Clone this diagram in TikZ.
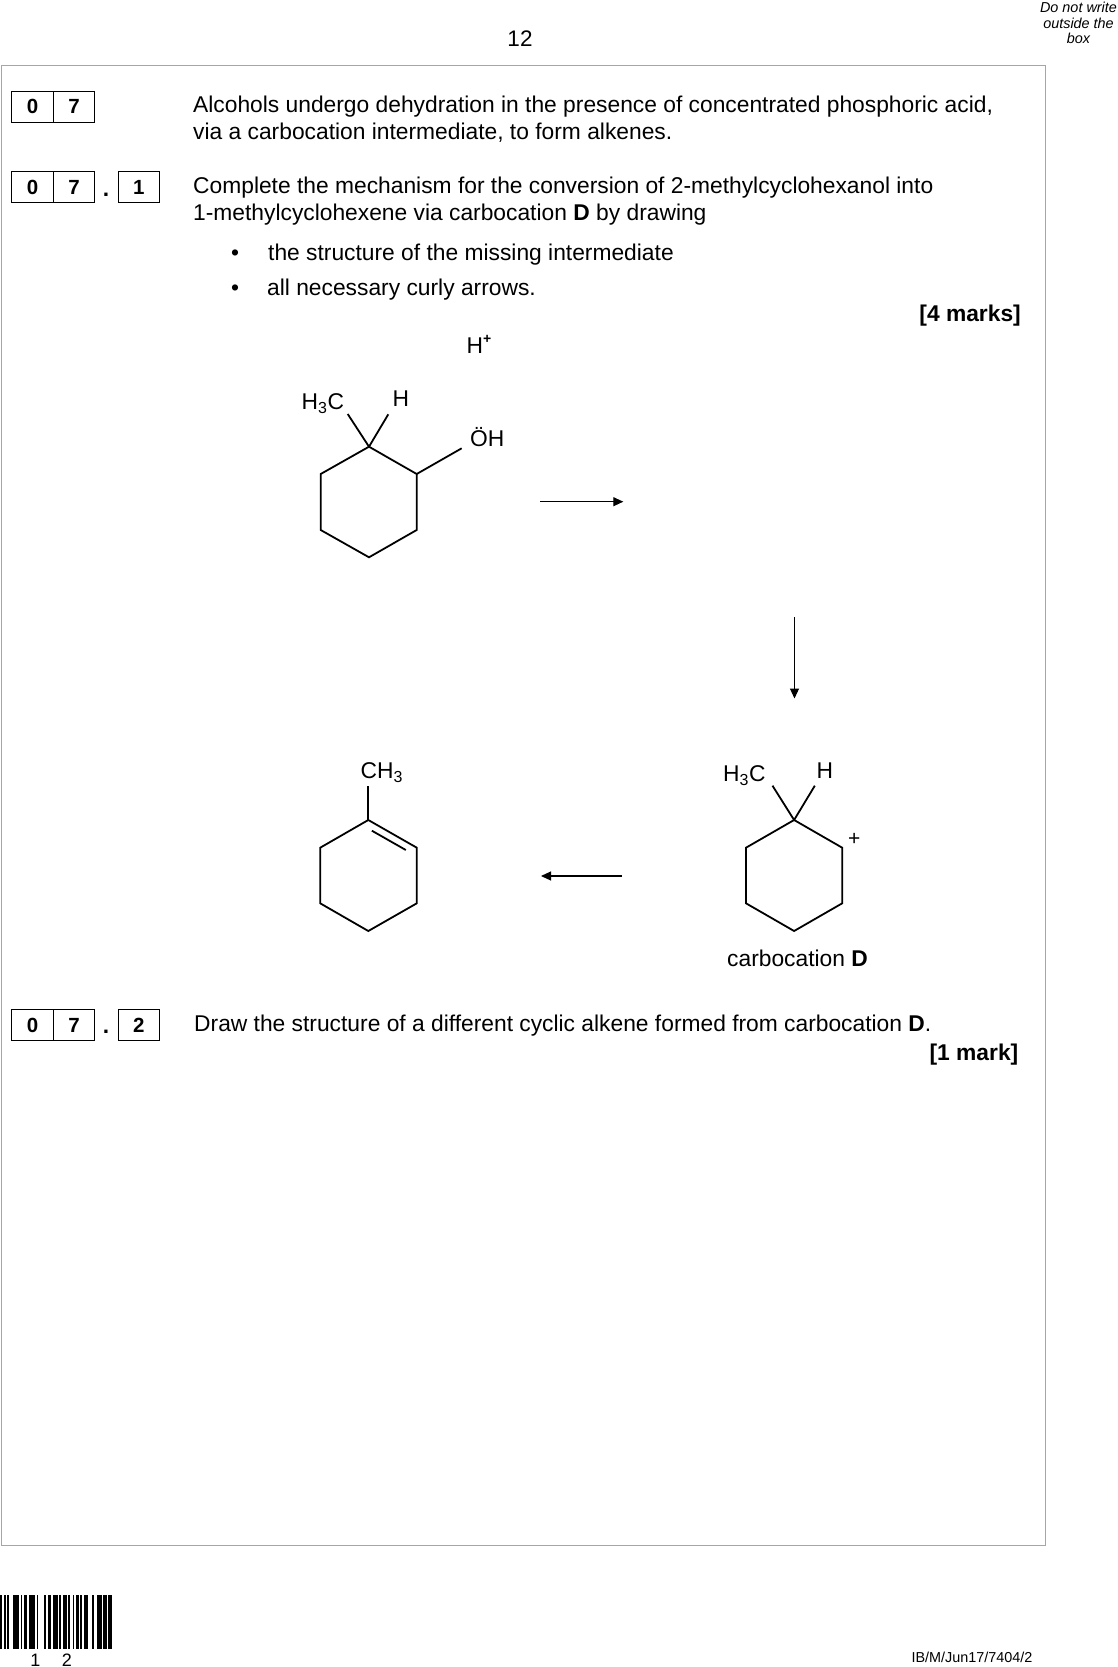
\documentclass[tikz,border=0pt]{standalone}
\usepackage{fontspec}
\setmainfont{Liberation Sans}
\usetikzlibrary{arrows.meta}
\begin{document}
\begin{tikzpicture}[x=1pt,y=-1pt,
  body/.style={font=\fontsize{22.8}{26.7}\selectfont, inner sep=0pt, anchor=base west},
  bodyr/.style={body, anchor=base east},
  bodyb/.style={font=\bfseries\fontsize{22.8}{22.8}\selectfont},
  small/.style={font=\itshape\fontsize{14.4}{15.3}\selectfont, inner sep=0pt, anchor=base, align=center},
  numbox/.style={draw, line width=0.9pt, minimum width=41.6pt, minimum height=31pt, inner sep=0pt, font=\bfseries\fontsize{20.5}{20.5}\selectfont},
  bond/.style={line width=1.8pt},
  rxn/.style={line width=1.1pt, -{Triangle[length=10pt,width=9pt]}},
  frame/.style={draw=black!35, line width=1pt},
  bar/.style={fill=black, draw=none}]
\useasboundingbox (0,0) rectangle (1117,1667);
\fill[white] (0,0) rectangle (1117,1667);

% header
\node[body, anchor=base, font=\fontsize{22.5}{22.5}\selectfont] (pageno) at (520,46.7) {12};
\node[small] (dnw1) at (1078.5,12.7) {Do not write};
\node[small] (dnw2) at (1078.5,28.3) {outside the};
\node[small] (dnw3) at (1078.5,43.5) {box};

% answer frame
\draw[frame] (1,65.7) rectangle (1045,1545.5);

% question 07
\node[numbox] (q7a) at (32.5,106.5) {0};
\node[numbox] (q7b) at (74.1,106.5) {7};
\node[body] (t1) at (193,112.7) {Alcohols undergo dehydration in the presence of concentrated phosphoric acid,};
\node[body] (t2) at (193,139.3) {via a carbocation intermediate, to form alkenes.};

% question 07.1
\node[numbox] (q71a) at (32.5,187.2) {0};
\node[numbox] (q71b) at (74.1,187.2) {7};
\node[body, anchor=base, bodyb] (q71dot) at (106,196) {.};
\node[numbox] (q71c) at (138.8,187.2) {1};
\node[body] (t3) at (193,193.3) {Complete the mechanism for the conversion of 2-methylcyclohexanol into};
\node[body] (t4) at (193,220) {1-methylcyclohexene via carbocation \textbf{D} by drawing};
\node[body, anchor=base] (bul1) at (235,260.7) {•};
\node[body] (t5) at (268,260.7) {the structure of the missing intermediate};
\node[body, anchor=base] (bul2) at (235,295) {•};
\node[body] (t6) at (267,295) {all necessary curly arrows.};
\node[bodyr, bodyb] (m4) at (1021,321.7) {[4 marks]};

% H+
\node[body] (hplus) at (466.5,353.3) {H\raisebox{0.42em}{\fontsize{14}{14}\selectfont\bfseries +}};

% molecule 1: 2-methylcyclohexanol
\coordinate (a1) at (369,446.7);
\coordinate (a2) at (416.7,474);
\coordinate (a3) at (416.7,530);
\coordinate (a4) at (369,557.3);
\coordinate (a5) at (320.7,530);
\coordinate (a6) at (320.7,474);
\coordinate (am) at (347.7,414);
\coordinate (ah) at (388.3,414.3);
\coordinate (ao) at (461.7,448.3);
\draw[bond] (a1) -- (a2) -- (a3) -- (a4) -- (a5) -- (a6) -- cycle;
\draw[bond] (a1) -- (am);
\draw[bond] (a1) -- (ah);
\draw[bond] (a2) -- (ao);
\node[body] (l1) at (301.5,409.5) {H\textsubscript{3}C};
\node[body] (l2) at (392.5,406) {H};
\node[body] (l3) at (470,446.7) {ÖH};

% arrow 1 (right)
\coordinate (r1s) at (540,501.7);
\coordinate (r1e) at (623.3,501.7);
\draw[rxn] (r1s) -- (r1e);

% arrow 2 (down)
\coordinate (r2s) at (794.5,617);
\coordinate (r2e) at (794.5,698.5);
\draw[rxn] (r2s) -- (r2e);

% molecule 3: carbocation D
\coordinate (c1) at (794.1,820);
\coordinate (c2) at (842.2,847.7);
\coordinate (c3) at (842.2,903.3);
\coordinate (c4) at (794.1,931);
\coordinate (c5) at (746,903.3);
\coordinate (c6) at (746,847.7);
\coordinate (cm) at (772.5,785.7);
\coordinate (ch) at (814.8,785.7);
\draw[bond] (c1) -- (c2) -- (c3) -- (c4) -- (c5) -- (c6) -- cycle;
\draw[bond] (c1) -- (cm);
\draw[bond] (c1) -- (ch);
\node[body] (l4) at (723,781.7) {H\textsubscript{3}C};
\node[body] (l5) at (816.5,778.3) {H};
\node[body, anchor=center, font=\fontsize{21}{21}\selectfont] (plus) at (854.2,839) {+};
\node[body] (l6) at (727,966.7) {carbocation \textbf{D}};

% arrow 3 (left)
\coordinate (r3s) at (622,876);
\coordinate (r3e) at (541,876);
\draw[rxn] (r3s) -- (r3e);

% molecule 2: 1-methylcyclohexene
\coordinate (b1) at (368.3,820);
\coordinate (b2) at (416.8,847.7);
\coordinate (b3) at (416.8,903.3);
\coordinate (b4) at (368.3,931);
\coordinate (b5) at (320.2,903.3);
\coordinate (b6) at (320.2,847.7);
\coordinate (bm) at (368.3,786);
\coordinate (bd1) at (371.9,830.7);
\coordinate (bd2) at (405.8,850);
\draw[bond] (b1) -- (b2) -- (b3) -- (b4) -- (b5) -- (b6) -- cycle;
\draw[bond] (b1) -- (bm);
\draw[bond] (bd1) -- (bd2);
\node[body] (l7) at (360.5,778.3) {CH\textsubscript{3}};

% question 07.2
\node[numbox] (q72a) at (32.5,1025) {0};
\node[numbox] (q72b) at (74.1,1025) {7};
\node[body, anchor=base, bodyb] (q72dot) at (106,1033.8) {.};
\node[numbox] (q72c) at (138.8,1025) {2};
\node[body] (t7) at (194,1031.7) {Draw the structure of a different cyclic alkene formed from carbocation \textbf{D}.};
\node[bodyr, bodyb] (m1) at (1018.5,1060) {[1 mark]};

% barcode
\foreach \bx/\bw in {0/1.5,4.3/1.5,7.3/2,12.5/6.5,20.5/1.5,24/3,29/5.5,36.7/1.5,43.7/2.5,47.7/3,52.7/5,59.3/1.5,62.7/4,68.3/1.7,72.7/1.5,76/2.5,80/2,84/3.5,92/2,96.7/5,103.3/3.3,108.3/3.4}
  \fill[bar] (\bx,1595) rectangle ++(\bw,54);
\node[body, anchor=base, font=\fontsize{18}{18}\selectfont] (bc1) at (35.5,1666) {1};
\node[body, anchor=base, font=\fontsize{18}{18}\selectfont] (bc2) at (67,1666) {2};

% footer
\node[bodyr, font=\fontsize{14.4}{14.4}\selectfont] (foot) at (1032.7,1662.7) {IB/M/Jun17/7404/2};
\end{tikzpicture}
\end{document}
